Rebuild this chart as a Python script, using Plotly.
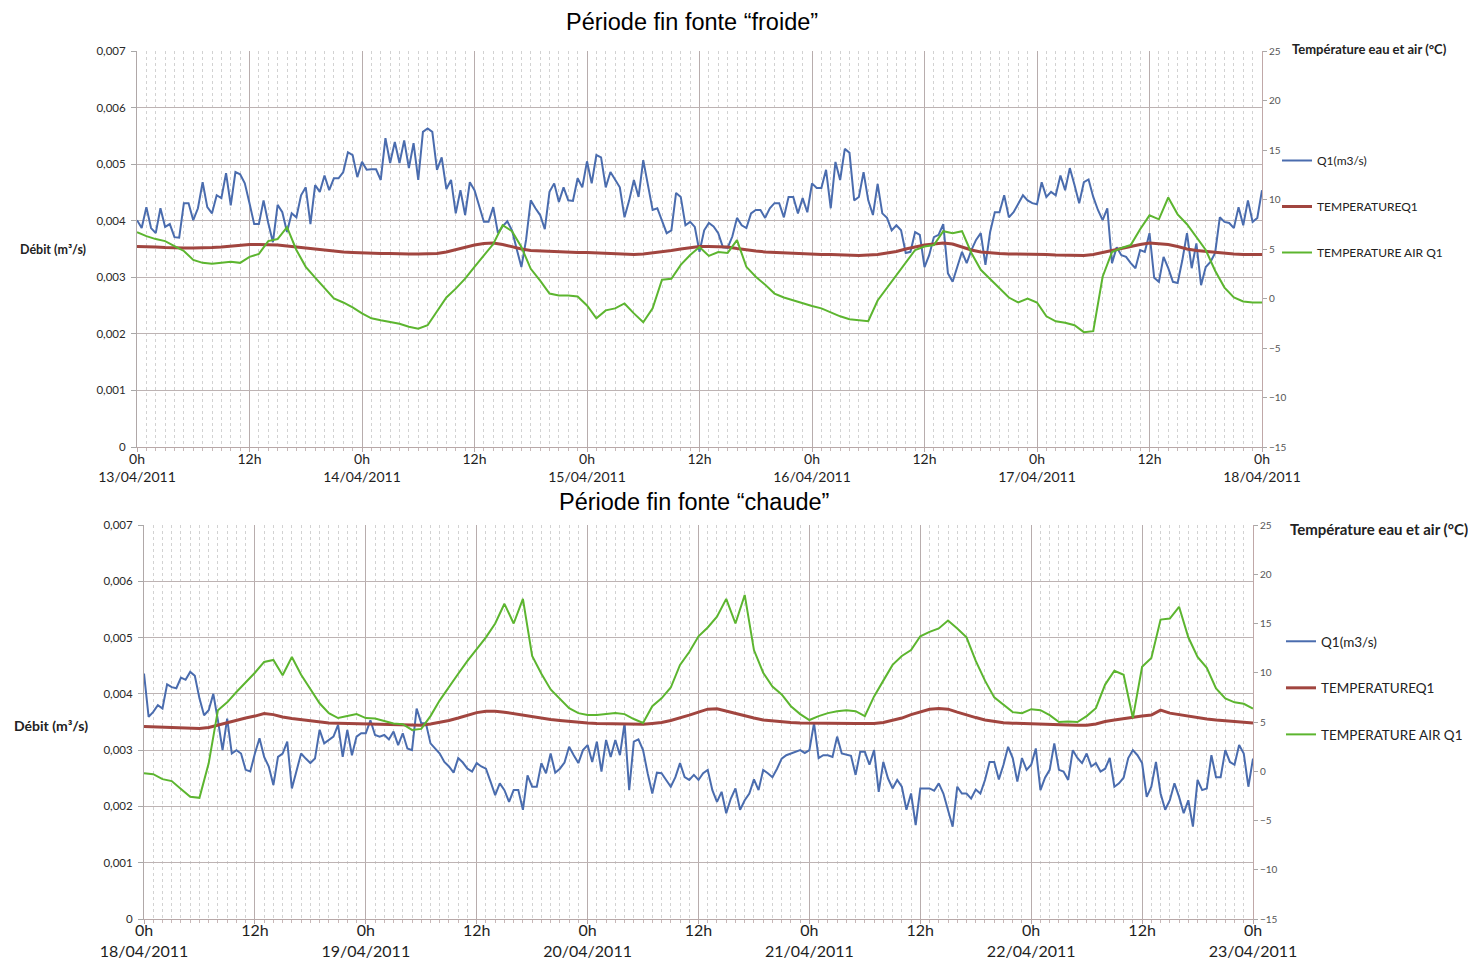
import plotly.graph_objects as go

# ---------------- data ----------------
# flow Q1 sampled every 30 min, temperatures hourly (hours from 0h of first day)
top_q = [
    0.00401, 0.00387, 0.00424, 0.00387, 0.00378, 0.00422, 0.00389, 0.00394, 0.00371, 0.00370,
    0.00431, 0.00431, 0.00401, 0.00422, 0.00468, 0.00424, 0.00413, 0.00445, 0.00440, 0.00484,
    0.00427, 0.00486, 0.00482, 0.00466, 0.00431, 0.00394, 0.00394, 0.00436, 0.00396, 0.00362,
    0.00428, 0.00415, 0.00380, 0.00413, 0.00406, 0.00445, 0.00459, 0.00394, 0.00463, 0.00451,
    0.00480, 0.00454, 0.00475, 0.00475, 0.00486, 0.00521, 0.00516, 0.00477, 0.00504, 0.00490,
    0.00491, 0.00491, 0.00472, 0.00546, 0.00502, 0.00539, 0.00502, 0.00542, 0.00493, 0.00537,
    0.00472, 0.00557, 0.00563, 0.00557, 0.00490, 0.00512, 0.00456, 0.00472, 0.00413, 0.00454,
    0.00410, 0.00468, 0.00454, 0.00424, 0.00398, 0.00398, 0.00424, 0.00378, 0.00390, 0.00399,
    0.00383, 0.00350, 0.00318, 0.00366, 0.00436, 0.00422, 0.00410, 0.00385, 0.00451, 0.00466,
    0.00433, 0.00459, 0.00436, 0.00435, 0.00475, 0.00459, 0.00505, 0.00466, 0.00516, 0.00512,
    0.00459, 0.00486, 0.00472, 0.00459, 0.00406, 0.00436, 0.00472, 0.00442, 0.00507, 0.00463,
    0.00419, 0.00422, 0.00401, 0.00378, 0.00383, 0.00449, 0.00442, 0.00392, 0.00398, 0.00389,
    0.00345, 0.00383, 0.00396, 0.00390, 0.00378, 0.00353, 0.00352, 0.00372, 0.00405, 0.00392,
    0.00387, 0.00413, 0.00419, 0.00419, 0.00405, 0.00422, 0.00431, 0.00431, 0.00406, 0.00442,
    0.00442, 0.00413, 0.00440, 0.00415, 0.00466, 0.00458, 0.00458, 0.00490, 0.00422, 0.00504,
    0.00472, 0.00527, 0.00520, 0.00436, 0.00442, 0.00486, 0.00436, 0.00410, 0.00465, 0.00413,
    0.00405, 0.00383, 0.00392, 0.00383, 0.00343, 0.00345, 0.00380, 0.00375, 0.00318, 0.00339,
    0.00371, 0.00375, 0.00394, 0.00307, 0.00292, 0.00318, 0.00345, 0.00325, 0.00348, 0.00366,
    0.00378, 0.00322, 0.00380, 0.00415, 0.00415, 0.00445, 0.00406, 0.00415, 0.00431, 0.00445,
    0.00436, 0.00431, 0.00429, 0.00468, 0.00442, 0.00451, 0.00445, 0.00480, 0.00454, 0.00493,
    0.00463, 0.00431, 0.00468, 0.00473, 0.00442, 0.00419, 0.00401, 0.00422, 0.00325, 0.00353,
    0.00339, 0.00336, 0.00325, 0.00316, 0.00348, 0.00345, 0.00378, 0.00299, 0.00292, 0.00336,
    0.00316, 0.00292, 0.00290, 0.00330, 0.00378, 0.00316, 0.00360, 0.00286, 0.00318, 0.00327,
    0.00343, 0.00406, 0.00398, 0.00396, 0.00387, 0.00424, 0.00392, 0.00436, 0.00398, 0.00405,
    0.00454,
]
top_water = [
    5.25, 5.25, 5.2, 5.15, 5.1, 5.1, 5.1, 5.1, 5.15, 5.2,
    5.3, 5.4, 5.45, 5.45, 5.45, 5.4, 5.3, 5.2, 5.05, 4.95,
    4.85, 4.8, 4.7, 4.65, 4.6, 4.6, 4.55, 4.55, 4.5, 4.5,
    4.5, 4.5, 4.55, 4.7, 4.95, 5.2, 5.4, 5.55, 5.6, 5.45,
    5.2, 5.0, 4.85, 4.8, 4.75, 4.7, 4.7, 4.65, 4.65, 4.6,
    4.6, 4.55, 4.5, 4.45, 4.5, 4.6, 4.7, 4.85, 5.0, 5.15,
    5.25, 5.25, 5.25, 5.2, 5.05, 4.9, 4.8, 4.7, 4.65, 4.6,
    4.55, 4.5, 4.5, 4.45, 4.45, 4.4, 4.4, 4.35, 4.4, 4.45,
    4.6, 4.75, 5.0, 5.2, 5.4, 5.5, 5.6, 5.5, 5.2, 4.9,
    4.7, 4.6, 4.55, 4.5, 4.5, 4.5, 4.45, 4.45, 4.4, 4.4,
    4.35, 4.35, 4.45, 4.65, 4.9, 5.1, 5.3, 5.45, 5.6, 5.55,
    5.45, 5.25, 5.0, 4.85, 4.75, 4.65, 4.55, 4.5, 4.45, 4.45,
    4.45,
]
top_air = [
    6.7, 6.3, 6.0, 5.8, 5.3, 4.8, 3.9, 3.6, 3.5, 3.6,
    3.7, 3.6, 4.2, 4.5, 5.8, 6.0, 7.2, 4.9, 3.2, 2.1,
    1.1, 0.0, -0.4, -0.9, -1.5, -2.0, -2.2, -2.4, -2.55, -2.85,
    -3.05, -2.7, -1.3, 0.1, 1.0, 2.0, 3.2, 4.3, 5.5, 7.4,
    6.8, 5.2, 3.0, 1.8, 0.5, 0.3, 0.3, 0.2, -0.7, -2.0,
    -1.2, -1.0, -0.5, -1.5, -2.4, -1.0, 1.9, 2.0, 3.4, 4.4,
    5.2, 4.3, 4.7, 4.6, 5.9, 3.2, 2.2, 1.4, 0.5, 0.1,
    -0.2, -0.45, -0.75, -1.0, -1.4, -1.8, -2.1, -2.2, -2.3, -0.2,
    1.1, 2.4, 3.6, 4.9, 5.25, 5.4, 6.8, 6.6, 6.8, 4.6,
    2.9, 2.0, 1.0, 0.1, -0.4, 0.0, -0.4, -1.8, -2.3, -2.45,
    -2.7, -3.4, -3.3, 2.2, 4.7, 5.1, 5.4, 7.0, 8.4, 8.0,
    10.2, 8.5, 7.5, 6.2, 4.9, 2.8, 1.1, 0.1, -0.3, -0.4,
    -0.4,
]

bot_q = [
    0.00436, 0.00359, 0.00368, 0.00380, 0.00374, 0.00417, 0.00412, 0.00410, 0.00429, 0.00425,
    0.00439, 0.00432, 0.00392, 0.00362, 0.00371, 0.00400, 0.00353, 0.00300, 0.00356, 0.00294,
    0.00300, 0.00294, 0.00265, 0.00262, 0.00294, 0.00321, 0.00288, 0.00271, 0.00238, 0.00288,
    0.00294, 0.00315, 0.00232, 0.00265, 0.00294, 0.00285, 0.00277, 0.00285, 0.00336, 0.00312,
    0.00318, 0.00324, 0.00345, 0.00288, 0.00336, 0.00291, 0.00324, 0.00330, 0.00330, 0.00353,
    0.00327, 0.00324, 0.00327, 0.00319, 0.00333, 0.00309, 0.00330, 0.00303, 0.00300, 0.00374,
    0.00348, 0.00348, 0.00312, 0.00303, 0.00294, 0.00279, 0.00271, 0.00260, 0.00286, 0.00278,
    0.00267, 0.00262, 0.00277, 0.00271, 0.00267, 0.00244, 0.00220, 0.00241, 0.00229, 0.00208,
    0.00229, 0.00229, 0.00194, 0.00255, 0.00235, 0.00235, 0.00277, 0.00259, 0.00294, 0.00260,
    0.00267, 0.00278, 0.00306, 0.00291, 0.00277, 0.00300, 0.00309, 0.00279, 0.00315, 0.00262,
    0.00318, 0.00288, 0.00318, 0.00291, 0.00348, 0.00229, 0.00315, 0.00319, 0.00300, 0.00259,
    0.00223, 0.00260, 0.00259, 0.00247, 0.00235, 0.00252, 0.00277, 0.00252, 0.00247, 0.00256,
    0.00247, 0.00259, 0.00265, 0.00229, 0.00208, 0.00226, 0.00188, 0.00214, 0.00232, 0.00194,
    0.00211, 0.00223, 0.00248, 0.00229, 0.00265, 0.00259, 0.00252, 0.00267, 0.00285, 0.00291,
    0.00294, 0.00297, 0.00300, 0.00295, 0.00300, 0.00348, 0.00286, 0.00291, 0.00291, 0.00288,
    0.00324, 0.00294, 0.00292, 0.00290, 0.00256, 0.00297, 0.00297, 0.00274, 0.00300, 0.00226,
    0.00279, 0.00250, 0.00232, 0.00247, 0.00235, 0.00194, 0.00223, 0.00167, 0.00232, 0.00232,
    0.00232, 0.00228, 0.00241, 0.00223, 0.00194, 0.00164, 0.00235, 0.00223, 0.00223, 0.00214,
    0.00230, 0.00223, 0.00247, 0.00279, 0.00279, 0.00248, 0.00274, 0.00306, 0.00286, 0.00244,
    0.00286, 0.00265, 0.00274, 0.00303, 0.00229, 0.00251, 0.00265, 0.00312, 0.00265, 0.00262,
    0.00247, 0.00300, 0.00286, 0.00277, 0.00294, 0.00271, 0.00277, 0.00262, 0.00267, 0.00286,
    0.00235, 0.00241, 0.00251, 0.00286, 0.00300, 0.00291, 0.00277, 0.00217, 0.00235, 0.00279,
    0.00223, 0.00194, 0.00211, 0.00241, 0.00217, 0.00188, 0.00211, 0.00164, 0.00247, 0.00229,
    0.00232, 0.00291, 0.00252, 0.00252, 0.00300, 0.00279, 0.00274, 0.00309, 0.00294, 0.00235,
    0.00285,
]
bot_water = [
    4.55, 4.52, 4.5, 4.45, 4.4, 4.35, 4.35, 4.45, 4.7, 4.95,
    5.2, 5.4, 5.6, 5.85, 5.75, 5.5, 5.35, 5.25, 5.15, 5.0,
    4.9, 4.88, 4.86, 4.85, 4.84, 4.82, 4.8, 4.78, 4.75, 4.72,
    4.68, 4.8, 4.95, 5.15, 5.4, 5.7, 5.95, 6.1, 6.1, 6.0,
    5.85, 5.65, 5.5, 5.35, 5.25, 5.15, 5.05, 4.95, 4.9, 4.85,
    4.82, 4.8, 4.78, 4.77, 4.77, 4.85, 4.95, 5.15, 5.4, 5.7,
    6.0, 6.3, 6.35, 6.1, 5.85, 5.6, 5.4, 5.2, 5.1, 5.0,
    4.95, 4.9, 4.88, 4.86, 4.84, 4.84, 4.84, 4.84, 4.84, 4.85,
    4.95, 5.15, 5.4, 5.75, 6.05, 6.3, 6.36, 6.3, 6.0, 5.7,
    5.45, 5.2, 5.05, 4.92, 4.88, 4.86, 4.84, 4.83, 4.8, 4.75,
    4.7, 4.67, 4.67, 4.8, 5.05, 5.2, 5.35, 5.5, 5.6, 5.7,
    6.2, 5.9, 5.75, 5.55, 5.4, 5.3, 5.2, 5.12, 5.05, 4.95,
    4.9,
]
bot_air = [
    -0.2, -0.3, -0.8, -1.0, -1.8, -2.6, -2.7, 0.8, 6.2, 7.0,
    8.05, 9.0, 10.0, 11.1, 11.3, 9.75, 11.6, 9.8, 8.4, 6.9,
    5.9, 5.4, 5.6, 5.8, 5.4, 5.35, 5.1, 4.85, 4.77, 4.2,
    4.3, 5.6, 7.2, 8.6, 9.9, 11.2, 12.4, 13.6, 15.0, 17.0,
    15.0, 17.5, 11.7, 9.9, 8.3, 7.4, 6.4, 5.9, 5.7, 5.7,
    5.8, 5.9, 5.8, 5.3, 4.9, 6.6, 7.4, 8.5, 10.8, 12.1,
    13.7, 14.6, 15.7, 17.5, 15.0, 17.9, 12.3, 10.0, 8.6, 7.8,
    6.6, 5.8, 5.2, 5.6, 5.9, 6.1, 6.2, 6.1, 5.6, 7.6,
    9.2, 10.8, 11.7, 12.3, 13.7, 14.15, 14.5, 15.3, 14.5, 13.6,
    11.2, 9.2, 7.5, 6.7, 6.0, 5.9, 6.3, 6.2, 5.7, 5.0,
    5.05, 5.0, 5.6, 6.4, 8.8, 10.2, 9.8, 5.4, 10.6, 11.5,
    15.4, 15.5, 16.7, 13.6, 11.6, 10.5, 8.4, 7.4, 7.0, 6.85,
    6.36,
]

for arr in (top_q, bot_q):
    assert len(arr) == 241, len(arr)
for arr in (top_water, top_air, bot_water, bot_air):
    assert len(arr) == 121, len(arr)

half_hours = [i * 0.5 for i in range(241)]
hours = list(range(121))

series_names = ["Q1(m3/s)", "TEMPERATUREQ1", "TEMPERATURE AIR Q1"]
titles = ["Période fin fonte \u201cfroide\u201d", "Période fin fonte \u201cchaude\u201d"]
left_title = "Débit (m³/s)"
right_title = "Température eau et air (°C)"

x_tickvals = [0, 12, 24, 36, 48, 60, 72, 84, 96, 108, 120]
top_dates = ["13/04/2011", "14/04/2011", "15/04/2011", "16/04/2011", "17/04/2011", "18/04/2011"]
bot_dates = ["18/04/2011", "19/04/2011", "20/04/2011", "21/04/2011", "22/04/2011", "23/04/2011"]
left_vals = [0, 0.001, 0.002, 0.003, 0.004, 0.005, 0.006, 0.007]
left_text = ["0", "0,001", "0,002", "0,003", "0,004", "0,005", "0,006", "0,007"]
right_vals = [-15, -10, -5, 0, 5, 10, 15, 20, 25]


def x_labels(dates):
    out = []
    for i, v in enumerate(x_tickvals):
        if i % 2 == 0:
            out.append("0h<br>" + dates[i // 2])
        else:
            out.append("12h")
    return out


# ---------------- styling ----------------
# the page body has an 8px margin: figure is placed at (8, 8) in the window
OFF = 8
W, H = 1476 - OFF, 963 - OFF
C_BLUE = "#4a6cae"
C_RED = "#a1453f"
C_GREEN = "#5cb52f"
GRID = "#bdb3b3"
MINOR = "#d2d2d2"
FONT = "Lato"


def px_x(p):
    return (p - OFF) / W


def px_y(p):
    return 1 - (p - OFF) / H


panels = [
    dict(q=top_q, water=top_water, air=top_air, dates=top_dates,
         xdom=[137, 1262], ydom=[447, 51], xfs=14, xstand=-5, legend="legend",
         sfx=("x", "y", "y2")),
    dict(q=bot_q, water=bot_water, air=bot_air, dates=bot_dates,
         xdom=[144, 1253], ydom=[919, 525], xfs=16, xstand=-7, legend="legend2",
         sfx=("x2", "y3", "y4")),
]

fig = go.Figure()
layout = dict(
    width=W, height=H, margin=dict(l=0, r=0, t=0, b=0, autoexpand=False),
    paper_bgcolor="white", plot_bgcolor="white",
    font=dict(family=FONT, color="#222222"),
    showlegend=True,
)

for k, p in enumerate(panels):
    xa, ya, ya2 = p["sfx"]
    fig.add_trace(go.Scatter(x=half_hours, y=p["q"], name=series_names[0], mode="lines",
                             line=dict(color=C_BLUE, width=2), xaxis=xa, yaxis=ya,
                             legend=p["legend"], legendgroup=f"q{k}"))
    fig.add_trace(go.Scatter(x=hours, y=p["water"], name=series_names[1], mode="lines",
                             line=dict(color=C_RED, width=3), xaxis=xa, yaxis=ya2,
                             legend=p["legend"], legendgroup=f"w{k}"))
    fig.add_trace(go.Scatter(x=hours, y=p["air"], name=series_names[2], mode="lines",
                             line=dict(color=C_GREEN, width=2), xaxis=xa, yaxis=ya2,
                             legend=p["legend"], legendgroup=f"a{k}"))

    xname = "xaxis" if k == 0 else "xaxis2"
    yname = "yaxis" if k == 0 else "yaxis3"
    y2name = "yaxis2" if k == 0 else "yaxis4"
    xdom = [px_x(p["xdom"][0]), px_x(p["xdom"][1])]
    ydom = [px_y(p["ydom"][0]), px_y(p["ydom"][1])]
    layout[xname] = dict(
        domain=xdom, range=[0, 120], anchor=ya, automargin=False,
        tickmode="array", tickvals=x_tickvals, ticktext=x_labels(p["dates"]),
        tickfont=dict(size=p["xfs"], color="#1e1e1e"), ticklabelstandoff=p["xstand"],
        showgrid=True, gridcolor="#b8adad", gridwidth=1,
        minor=dict(tickmode="linear", tick0=0, dtick=1, showgrid=True,
                   gridcolor=MINOR, griddash="3px,3px", gridwidth=1,
                   ticks="outside", ticklen=3, tickcolor="#c8b8b8"),
        ticks="outside", ticklen=4, tickcolor="#b8a8a8",
        showline=True, linecolor="#b8a8a8", zeroline=False,
    )
    layout[yname] = dict(
        domain=ydom, range=[0, 0.007], anchor=xa, automargin=False,
        tickmode="array", tickvals=left_vals, ticktext=left_text,
        tickfont=dict(size=11.5, color="#2a2a2a"), ticklabelstandoff=3,
        showgrid=True, gridcolor=GRID, gridwidth=1,
        ticks="outside", ticklen=5, tickcolor="#a8a8a8",
        showline=True, linecolor="#b0a8a8", zeroline=False,
    )
    layout[y2name] = dict(
        domain=ydom, range=[-15, 25], anchor=xa, overlaying=ya, side="right", automargin=False,
        tickmode="array", tickvals=right_vals,
        tickfont=dict(size=10, color="#555555"),
        showgrid=False, ticks="outside", ticklen=4, tickcolor="#a8a8a8",
        showline=True, linecolor="#c0a8a8", zeroline=False,
    )

layout["legend"] = dict(x=px_x(1277), y=px_y(146), xanchor="left", yanchor="top",
                        bgcolor="rgba(0,0,0,0)", font=dict(size=12, color="#222"),
                        tracegroupgap=27, itemwidth=30)
layout["legend2"] = dict(x=px_x(1281), y=px_y(626), xanchor="left", yanchor="top",
                         bgcolor="rgba(0,0,0,0)", font=dict(size=13.5, color="#222"),
                         tracegroupgap=26, itemwidth=30)

annotations = [
    dict(text=titles[0], x=px_x(692), y=px_y(22), xref="paper", yref="paper",
         showarrow=False, xanchor="center", yanchor="middle",
         font=dict(family="Liberation Sans", size=23.5, color="black")),
    dict(text=titles[1], x=px_x(694), y=px_y(502), xref="paper", yref="paper",
         showarrow=False, xanchor="center", yanchor="middle",
         font=dict(family="Liberation Sans", size=23.5, color="black")),
    dict(text="<b>" + left_title + "</b>", x=px_x(53), y=px_y(249), xref="paper", yref="paper",
         showarrow=False, xanchor="center", yanchor="middle", font=dict(size=12.5, color="#222")),
    dict(text="<b>" + left_title + "</b>", x=px_x(51), y=px_y(725), xref="paper", yref="paper",
         showarrow=False, xanchor="center", yanchor="middle", font=dict(size=14, color="#222")),
    dict(text="<b>" + right_title + "</b>", x=px_x(1290), y=px_y(49), xref="paper", yref="paper",
         showarrow=False, xanchor="left", yanchor="middle", font=dict(size=13, color="#222")),
    dict(text="<b>" + right_title + "</b>", x=px_x(1288), y=px_y(529), xref="paper", yref="paper",
         showarrow=False, xanchor="left", yanchor="middle", font=dict(size=15, color="#222")),
]
layout["annotations"] = annotations

fig.update_layout(**layout)
fig.write_html("out.html")
